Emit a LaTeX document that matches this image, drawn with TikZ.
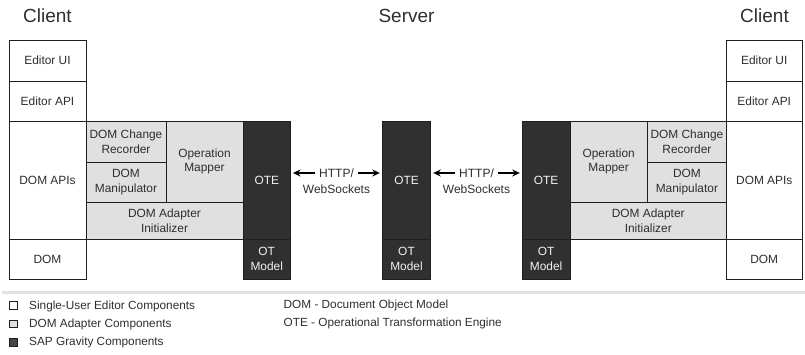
\documentclass[tikz,border=0pt]{standalone}
\usepackage{fontspec}
\setmainfont{Liberation Sans}
\usetikzlibrary{arrows.meta}
\definecolor{linec}{HTML}{1E1E1E}
\definecolor{txt}{HTML}{2E2E2E}
\definecolor{adapter}{HTML}{E0E0E0}
\definecolor{gravity}{HTML}{303030}
\definecolor{gravtxt}{HTML}{F2F2F2}
\definecolor{rule}{HTML}{E2E2E2}
\tikzset{
  blk/.style={draw=linec, line width=0.9pt, outer sep=0pt, inner sep=1pt,
    align=center, text=txt, font=\fontsize{11.9}{14.8}\selectfont,
    minimum width=#1},
  single/.style={blk=#1, fill=white},
  adapt/.style={blk=#1, fill=adapter},
  grav/.style={blk=#1, fill=gravity, text=gravtxt},
  title/.style={text=txt, font=\fontsize{19}{22}\selectfont, inner sep=0pt},
  proto/.style={text=txt, font=\fontsize{12}{14}\selectfont, inner xsep=3.5pt, inner ysep=2pt},
  link/.style={line width=1.2pt, draw=black, -{Stealth[length=7.5pt,width=7pt]}, shorten >=2.5pt},
  legbox/.style={draw=linec, line width=0.8pt, minimum size=7.5pt, inner sep=0pt},
  legtxt/.style={text=txt, font=\fontsize{11.8}{14}\selectfont, anchor=west, inner sep=0pt},
}
\begin{document}
\begin{tikzpicture}[x=1pt, y=-1pt]
\useasboundingbox (0,0) rectangle (805,354);

% headings
\node[title] (hcl) at (47.5,16) {Client};
\node[title] (hsv) at (406.5,16) {Server};
\node[title] (hcr) at (764.5,16) {Client};

% left client
\node[single=77pt, minimum height=41pt] (luI) at (47.5,60.5) {Editor UI};
\node[single=77pt, minimum height=40pt] (lapi) at (47.5,101) {Editor API};
\node[single=77pt, minimum height=118pt] (ldapi) at (47.5,180) {DOM APIs};
\node[single=77pt, minimum height=40pt] (ldom) at (47.5,259) {DOM};
\node[adapt=80pt, minimum height=41pt] (lrec) at (126,141.5) {DOM Change\\Recorder};
\node[adapt=80pt, minimum height=40pt] (lman) at (126,182) {DOM\\Manipulator};
\node[adapt=77pt, minimum height=81pt] (lmap) at (204.5,161.5) {Operation\\Mapper};
\node[adapt=157pt, minimum height=37pt] (linit) at (164.5,220.5) {DOM Adapter\\Initializer};
\node[grav=47.5pt, minimum height=118pt] (lote) at (266.75,180) {OTE};
\node[grav=47.5pt, minimum height=40pt] (lotm) at (266.75,259) {OT\\Model};

% server
\node[grav=48.4pt, minimum height=118pt] (sote) at (406.5,180) {OTE};
\node[grav=48.4pt, minimum height=40pt] (sotm) at (406.5,259) {OT\\Model};

% right client
\node[grav=47.7pt, minimum height=118pt] (rote) at (546.15,180) {OTE};
\node[grav=47.7pt, minimum height=40pt] (rotm) at (546.15,259) {OT\\Model};
\node[adapt=77.3pt, minimum height=81pt] (rmap) at (608.65,161.5) {Operation\\Mapper};
\node[adapt=79.2pt, minimum height=41pt] (rrec) at (686.9,141.5) {DOM Change\\Recorder};
\node[adapt=79.2pt, minimum height=40pt] (rman) at (686.9,182) {DOM\\Manipulator};
\node[adapt=156.5pt, minimum height=37pt] (rinit) at (648.25,220.5) {DOM Adapter\\Initializer};
\node[single=75.5pt, minimum height=41pt] (ruI) at (764.25,60.5) {Editor UI};
\node[single=75.5pt, minimum height=40pt] (rapi) at (764.25,101) {Editor API};
\node[single=75.5pt, minimum height=118pt] (rdapi) at (764.25,180) {DOM APIs};
\node[single=75.5pt, minimum height=40pt] (rdom) at (764.25,259) {DOM};

% transport between the OT engines
\node[proto] (h1) at (336.5,173) {HTTP/};
\node[proto] (w1) at (336.5,189) {WebSockets};
\node[proto] (h2) at (476.5,173) {HTTP/};
\node[proto] (w2) at (476.5,189) {WebSockets};
\draw[link] (h1.west) -- (lote.east |- h1.west);
\draw[link] (h1.east) -- (sote.west |- h1.east);
\draw[link] (h2.west) -- (sote.east |- h2.west);
\draw[link] (h2.east) -- (rote.west |- h2.east);

% separator
\fill[rule] (2,291) rectangle (805,294.2);

% legend
\node[legbox, fill=white] (k1) at (13.3,305.5) {};
\node[legbox, fill=adapter] (k2) at (13.3,324) {};
\node[legbox, fill=gravity!90!white] (k3) at (13.3,342.3) {};
\node[legtxt] (t1) at (29,306) {Single-User Editor Components};
\node[legtxt] (t2) at (29,324.3) {DOM Adapter Components};
\node[legtxt] (t3) at (29,342.7) {SAP Gravity Components};
\node[legtxt] (a1) at (283.5,305) {DOM - Document Object Model};
\node[legtxt] (a2) at (283.5,323.3) {OTE - Operational Transformation Engine};
\end{tikzpicture}
\end{document}
